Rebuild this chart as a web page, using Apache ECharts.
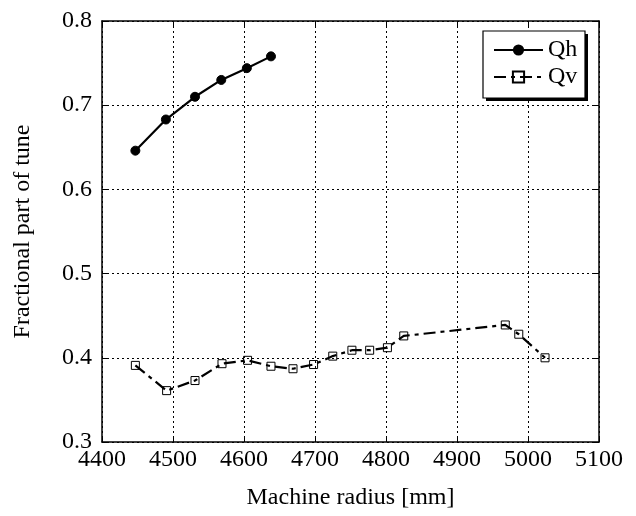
<!DOCTYPE html>
<html>
<head>
<meta charset="utf-8">
<script src="https://cdn.jsdelivr.net/npm/echarts@6/dist/echarts.min.js"></script>
<style>html,body{margin:0;padding:0;background:#fff}#c{width:636px;height:516px}</style>
</head>
<body>
<div id="c"></div>
<script>
var qhX = [4447, 4490, 4531, 4568, 4604, 4638];
var qhY = [0.646, 0.683, 0.710, 0.730, 0.744, 0.758];
var qvX = [4447, 4491, 4531, 4569, 4605, 4638, 4669, 4698, 4725, 4752, 4777, 4802, 4825, 4968, 4987, 5024];
var qvY = [0.391, 0.361, 0.373, 0.393, 0.397, 0.390, 0.387, 0.392, 0.402, 0.409, 0.409, 0.412, 0.426, 0.439, 0.428, 0.400];
var xTicks = [4400, 4500, 4600, 4700, 4800, 4900, 5000, 5100];
var yTicks = [0.3, 0.4, 0.5, 0.6, 0.7, 0.8];

function pairs(xs, ys){ return xs.map(function(x,i){ return [x, ys[i]]; }); }
var FONT = '"Liberation Serif", "Times New Roman", serif';
var FS = 24;
var chart = echarts.init(document.getElementById('c'));
var grid = {left:102, right:37, top:21, bottom:74};
var dotted = {color:'#000', width:1, type:[2,3]};
var LB = {x:483, y:31, w:102, h:67};
chart.setOption({
  animation:false,
  backgroundColor:'#fff',
  textStyle:{fontFamily:FONT, color:'#000'},
  grid: grid,
  graphic:[
    {type:'rect', z:3, silent:true, shape:{x:LB.x+3, y:LB.y+3, width:LB.w, height:LB.h}, style:{fill:'#000'}},
    {type:'rect', z:3, silent:true, shape:{x:LB.x, y:LB.y, width:LB.w, height:LB.h}, style:{fill:'#fff', stroke:'#000', lineWidth:1.2}}
  ],
  legend:{
    orient:'vertical', left:LB.x, top:LB.y, align:'left', z:4,
    backgroundColor:'transparent', borderWidth:0,
    padding:[7,8,8,10], itemGap:3, itemWidth:49, itemHeight:14,
    textStyle:{fontFamily:FONT, fontSize:FS, color:'#000', lineHeight:24},
    data:['Qh','Qv']
  },
  xAxis:[{
    type:'value', min:xTicks[0], max:xTicks[xTicks.length-1], interval:100,
    name:'Machine radius [mm]', nameLocation:'middle', nameGap:44,
    nameTextStyle:{fontFamily:FONT, fontSize:FS, color:'#000'},
    axisLine:{show:true, lineStyle:{color:'#000', width:1.5}},
    axisTick:{show:true, inside:true, length:5, lineStyle:{color:'#000'}},
    axisLabel:{fontFamily:FONT, fontSize:FS, color:'#000', margin:6, formatter:function(v){return String(v);}},
    splitLine:{show:true, lineStyle:dotted}
  },{
    type:'value', position:'top', min:xTicks[0], max:xTicks[xTicks.length-1], interval:100,
    axisLine:{show:true, lineStyle:{color:'#000', width:1.5}},
    axisTick:{show:true, inside:true, length:5, lineStyle:{color:'#000'}},
    axisLabel:{show:false}, splitLine:{show:false}
  }],
  yAxis:[{
    type:'value', min:yTicks[0], max:yTicks[yTicks.length-1], interval:0.1,
    name:'Fractional part of tune', nameLocation:'middle', nameGap:67,
    nameTextStyle:{fontFamily:FONT, fontSize:FS, color:'#000'},
    axisLine:{show:true, lineStyle:{color:'#000', width:1.5}},
    axisTick:{show:true, inside:true, length:5, lineStyle:{color:'#000'}},
    axisLabel:{fontFamily:FONT, fontSize:FS, color:'#000', margin:10, formatter:function(v){return v.toFixed(1);}},
    splitLine:{show:true, lineStyle:dotted}
  },{
    type:'value', position:'right', min:yTicks[0], max:yTicks[yTicks.length-1], interval:0.1,
    axisLine:{show:true, lineStyle:{color:'#000', width:1.5}},
    axisTick:{show:true, inside:true, length:5, lineStyle:{color:'#000'}},
    axisLabel:{show:false}, splitLine:{show:false}
  }],
  series:[{
    name:'Qh', type:'line', data:pairs(qhX,qhY),
    symbol:'circle', symbolSize:9,
    lineStyle:{color:'#000', width:2.2},
    itemStyle:{color:'#000', borderColor:'#000'}
  },{
    name:'Qv', type:'line', data:pairs(qvX,qvY),
    symbol:'rect', symbolSize:8,
    lineStyle:{color:'#000', width:2.2, type:[12,5,4,5]},
    itemStyle:{color:'rgba(0,0,0,0)', borderColor:'#000', borderWidth:1}
  }]
});
</script>
</body>
</html>
